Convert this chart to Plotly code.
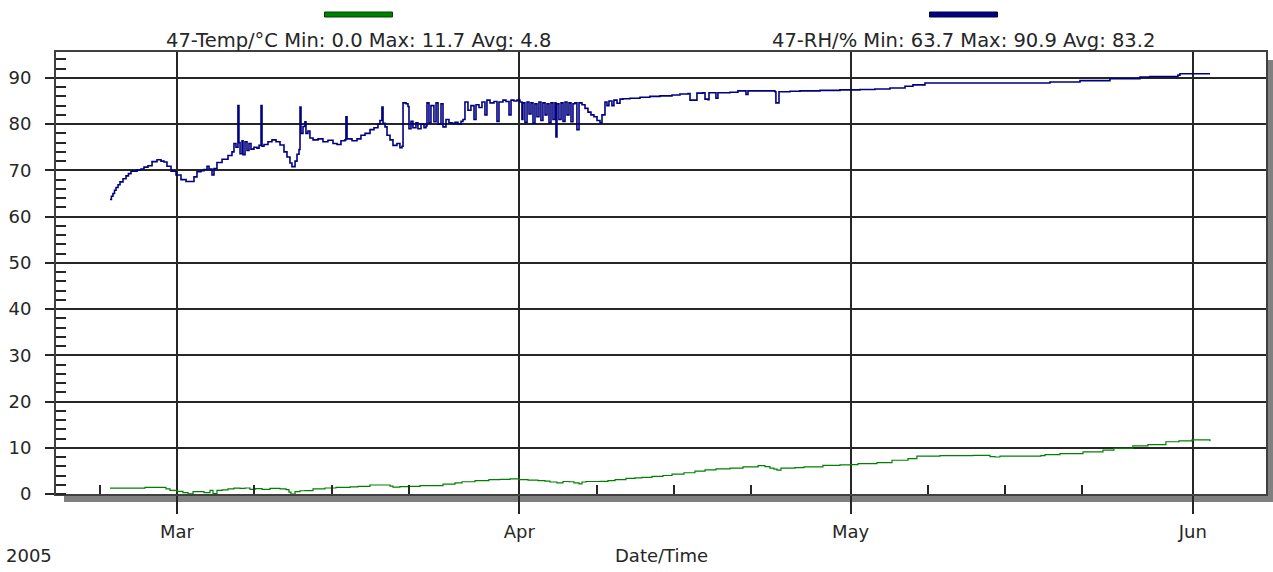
import pandas as pd
import plotly.graph_objects as go

# Logger 47, spring 2005
# time is stored as days since 2005-03-01 00:00
t0 = pd.Timestamp("2005-03-01")

rh_days = [
    -6.07, -5.94, -5.80, -5.66, -5.52, -5.34, -5.16, -4.89, -4.62, -4.40, -4.17, -3.62,
    -3.26, -2.99, -2.63, -2.26, -1.81,
    -1.45, -1.18, -0.91, -0.54, -0.09, 0.36, 0.82, 1.18, 1.54, 1.81, 2.17, 2.45, 2.72,
    2.90, 3.17, 3.35, 3.62, 4.08, 4.62, 4.98, 5.16, 5.34, 5.52, 5.61, 5.71, 5.89, 5.98,
    6.16, 6.34, 6.52, 6.70, 6.97, 7.24, 7.43, 7.61, 7.70, 7.88, 8.24, 8.60, 8.97, 9.33,
    9.69, 9.96, 10.23, 10.41, 10.69, 10.87, 11.05, 11.14, 11.23, 11.41, 11.59, 11.68,
    11.86, 12.04, 12.32, 12.77, 13.22, 13.67, 14.13, 14.49, 14.85, 15.21, 15.30, 15.40,
    15.85, 16.30, 16.66, 17.03, 17.48, 17.84, 18.20, 18.38, 18.56, 18.66, 18.84, 19.02,
    19.29, 19.56, 19.92, 20.19, 20.38, 20.47, 20.74, 20.92, 21.01, 21.19, 21.37, 21.64,
    21.82, 22.10, 22.37, 22.55, 22.64, 22.82, 23.00, 23.27, 23.46, 23.64, 23.91, 24.09,
    24.36, 24.63, 24.90, 25.18, 25.45, 25.72, 25.90, 26.08, 26.35, 26.62, 26.90, 27.08,
    27.35, 27.62, 27.89, 28.07, 28.35, 28.71, 28.98, 29.16, 29.52, 29.79, 30.07, 30.25,
    30.52, 30.79, 31.06, 31.24, 31.33, 31.51, 31.70, 31.88, 32.06, 32.24, 32.42, 32.60,
    32.78, 32.96, 33.14, 33.33, 33.51, 33.69, 33.87, 34.05, 34.23, 34.32, 34.41, 34.59,
    34.78, 34.96, 35.14, 35.32, 35.50, 35.68, 35.86, 36.04, 36.22, 36.41, 36.68, 36.95,
    37.22, 37.49, 37.76, 38.04, 38.31, 38.49, 38.76, 38.94, 39.12, 39.39, 39.57, 39.85,
    40.12, 40.39, 41.02, 41.93, 42.83, 43.74, 44.83, 45.55, 46.28, 46.46, 47.00, 47.09,
    47.63, 47.82, 48.09, 48.18, 48.72, 48.81, 48.99, 50.08, 50.80, 51.44, 51.53, 51.71,
    52.80, 53.70, 54.15, 54.24, 54.43, 54.52, 55.51, 56.42, 58.23, 60.04, 61.85, 63.21,
    64.57, 65.93, 66.65, 67.74, 70.91, 74.53, 77.52, 79.06, 81.78, 84.49, 87.21, 88.11,
    90.65, 90.83, 92.19, 93.55,
]
rh_values = [
    63.7, 64.4, 65.0, 65.7, 66.3, 66.9, 67.5, 68.2, 68.8, 69.3, 69.8, 70.1,
    70.3, 70.7, 71.0, 71.9, 72.3,
    72.0, 71.8, 70.9, 69.8, 69.0, 68.0, 67.6, 67.6, 68.6, 69.7, 69.9, 70.2, 70.9,
    70.3, 69.0, 70.4, 71.7, 72.4, 73.2, 74.0, 75.8, 75.0, 84.0, 76.0, 73.6, 76.4, 73.4,
    76.2, 74.3, 75.8, 74.6, 75.0, 74.8, 75.4, 84.0, 75.2, 75.6, 76.2, 76.6, 76.2, 75.5,
    74.0, 72.9, 71.6, 70.8, 72.0, 73.5, 74.5, 83.7, 78.0, 79.5, 80.5, 78.0,
    78.5, 77.0, 76.6, 76.8, 76.2, 76.5, 75.8, 75.6, 76.4, 76.6, 81.6, 76.8,
    76.4, 76.8, 77.6, 78.0, 78.8, 79.2, 80.0, 80.8, 83.7, 80.2, 79.4, 77.6,
    76.6, 75.4, 75.8, 74.9, 75.2, 84.6, 84.4, 83.8, 79.0, 80.6, 79.2, 80.3,
    79.0, 80.0, 79.2, 79.6, 84.6, 80.3, 84.0, 80.5, 84.6, 80.0, 84.4, 79.4,
    81.0, 80.3, 80.2, 80.4, 80.0, 80.6, 81.0, 84.8, 83.0, 84.0, 81.0, 84.2,
    83.6, 84.8, 82.0, 85.2, 84.6, 84.9, 80.6, 84.8, 85.2, 84.9, 82.0, 85.2,
    85.0, 85.2, 84.8, 81.0, 84.6, 80.4, 84.8, 82.2, 84.6, 80.2, 84.4, 81.6,
    84.8, 80.8, 84.6, 82.0, 84.4, 80.3, 84.6, 81.0, 84.6, 77.2, 84.4, 81.0,
    84.6, 80.6, 84.8, 82.0, 84.6, 80.5, 84.4, 84.6, 78.8, 84.6, 84.2, 83.4,
    82.6, 82.0, 81.6, 80.8, 80.3, 82.0, 84.8, 84.0, 85.0, 84.0, 85.2, 84.5,
    85.4, 85.5, 85.6, 85.8, 86.0, 86.1, 86.3, 86.5, 86.6, 85.2, 85.2, 86.7,
    86.8, 85.4, 85.3, 86.8, 86.8, 85.6, 86.8, 86.9, 87.2, 87.2, 86.4, 87.2,
    87.2, 87.2, 87.0, 84.6, 84.6, 87.0, 87.1, 87.2, 87.3, 87.4, 87.5, 87.6,
    87.8, 88.2, 88.5, 88.9, 88.9, 88.9, 88.9, 89.1, 89.4, 89.8, 90.2, 90.3,
    90.6, 90.9, 90.9, 90.9,
]

temp_days = [
    -6.07, -4.26, -2.90, -1.36, -1.00, -0.63, 0.00, 0.54, 1.00, 1.45, 1.90, 2.45, 2.99,
    3.26, 3.62, 4.08, 4.62, 5.16, 5.71, 6.16, 6.61, 7.06, 7.70, 8.42, 9.33, 9.87, 10.14,
    10.32, 10.69, 11.14, 11.59, 12.32, 13.40, 14.40, 15.67, 16.39, 17.48, 18.38, 19.02,
    19.29, 19.56, 20.19, 20.92, 22.01, 24.09, 25.18, 25.81, 26.99, 28.25, 29.25, 30.16,
    30.97, 31.79, 32.69, 33.33, 33.78, 34.41, 34.96, 35.50, 35.95, 36.41, 36.68, 37.04,
    37.67, 38.31, 39.03, 39.67, 40.66, 41.48, 42.11, 43.02, 44.01, 44.83, 45.91, 46.91,
    47.82, 48.81, 50.08, 51.26, 52.62, 53.25, 53.70, 54.06, 54.34, 54.70, 55.97, 56.78,
    58.50, 60.04, 61.04, 61.67, 63.39, 64.75, 66.20, 67.01, 69.10, 72.09, 73.63, 74.08,
    74.53, 78.24, 78.61, 79.96, 82.05, 83.86, 84.85, 86.57, 87.93, 89.56, 90.74, 91.92,
    92.82, 93.55,
]
temp_values = [
    1.25, 1.25, 1.45, 1.45, 1.1, 0.8, 0.55, 0.3, 0.05, 0.5, 0.5, 0.3, 0.8,
    0.1, 0.8, 0.9, 1.1, 1.25, 1.2, 1.3, 1.0, 1.15, 1.0, 1.2, 1.1, 0.95, 0.4,
    0.0, 0.5, 0.7, 0.75, 1.1, 1.3, 1.45, 1.55, 1.65, 1.95, 1.95, 1.95,
    1.7, 1.5, 1.6, 1.65, 1.8, 2.15, 2.4, 2.65, 2.9, 3.1, 3.15, 3.25,
    3.1, 3.0, 2.9, 2.8, 2.6, 2.4, 2.7, 2.65, 2.4, 2.2, 2.6, 2.7,
    2.7, 2.75, 2.9, 3.1, 3.4, 3.5, 3.6, 3.8, 4.0, 4.3, 4.6, 4.95,
    5.2, 5.45, 5.6, 5.85, 6.15, 5.9, 5.6, 5.4, 5.15, 5.6, 5.7, 5.85,
    6.2, 6.3, 6.35, 6.55, 6.8, 7.3, 7.65, 8.2, 8.3, 8.35, 8.1, 8.0,
    8.2, 8.3, 8.5, 8.75, 9.1, 9.5, 9.85, 10.4, 10.7, 11.3, 11.5, 11.7,
    11.7, 11.4,
]

legend_labels = [
    "47-Temp/°C Min: 0.0 Max: 11.7 Avg: 4.8",
    "47-RH/% Min: 63.7 Max: 90.9 Avg: 83.2",
]
month_ticks = ["2005-03-01", "2005-04-01", "2005-05-01", "2005-06-01"]
month_labels = ["Mar", "Apr", "May", "Jun"]
week_ticks = ["2005-02-22", "2005-03-08", "2005-03-15", "2005-03-22",
              "2005-04-08", "2005-04-15", "2005-04-22",
              "2005-05-08", "2005-05-15", "2005-05-22"]

FONT = "DejaVu Sans"
INK = "#262626"
TEMP_COLOR = "#008000"
RH_COLOR = "#000080"

rh_time = t0 + pd.to_timedelta(rh_days, unit="D")
temp_time = t0 + pd.to_timedelta(temp_days, unit="D")

# logger readings are held until the next sample -> step lines
fig = go.Figure()
fig.add_trace(go.Scatter(x=temp_time, y=temp_values, mode="lines",
                         line=dict(color=TEMP_COLOR, width=1.2, shape="hv"),
                         showlegend=False))
fig.add_trace(go.Scatter(x=rh_time, y=rh_values, mode="lines",
                         line=dict(color=RH_COLOR, width=1.6, shape="hv"),
                         showlegend=False))

axis_common = dict(showline=True, mirror=True, linecolor="#404040", linewidth=2,
                   showgrid=True, gridcolor=INK, gridwidth=1.5, zeroline=False,
                   tickcolor=INK, tickwidth=1.5, automargin=False,
                   tickfont=dict(family=FONT, size=18, color=INK))

fig.update_xaxes(type="date", range=["2005-02-18 01:00", "2005-06-07 15:00"],
                 tickvals=month_ticks, ticktext=month_labels,
                 ticks="outside", ticklen=18, ticklabelstandoff=2,
                 minor=dict(tickvals=week_ticks, ticks="inside", ticklen=9,
                            tickcolor=INK, tickwidth=1.5, showgrid=False),
                 **axis_common)
fig.update_yaxes(range=[0, 95.6], tickvals=list(range(0, 100, 10)),
                 ticks="outside", ticklen=9, ticklabelstandoff=10,
                 minor=dict(dtick=2, ticks="inside", ticklen=10,
                            tickcolor=INK, tickwidth=1.5, showgrid=False),
                 **axis_common)

# plot area (px 56..1266 x 52..494) -> paper coords, shadow offset 8px
W, H = 1210, 442
shapes = [
    dict(type="rect", xref="paper", yref="paper", layer="below",
         x0=8 / W, x1=1 + 8 / W, y0=-8 / H, y1=1 - 8 / H,
         fillcolor="#808080", line=dict(width=0)),
    dict(type="rect", xref="paper", yref="paper", layer="below",
         x0=0, x1=1, y0=0, y1=1, fillcolor="white", line=dict(width=0)),
]
annotations = []
for cx, label, color, edge in [(0.25, legend_labels[0], TEMP_COLOR, "#004000"),
                               (0.75, legend_labels[1], RH_COLOR, "#000040")]:
    shapes.append(dict(type="rect", xref="paper", yref="paper",
                       x0=cx - 34 / W, x1=cx + 34 / W, y0=1 + 35 / H, y1=1 + 40 / H,
                       fillcolor=color, line=dict(color=edge, width=1)))
    annotations.append(dict(text=label, xref="paper", yref="paper", x=cx, y=1 + 12 / H,
                            xanchor="center", yanchor="middle", showarrow=False,
                            font=dict(family=FONT, size=19.5, color=INK)))

annotations.append(dict(text="Date/Time", xref="paper", yref="paper", x=0.5, y=-61 / H,
                        xanchor="center", yanchor="middle", showarrow=False,
                        font=dict(family=FONT, size=18, color=INK)))
annotations.append(dict(text="2005", xref="paper", yref="paper", x=-52 / W, y=-61 / H,
                        xanchor="left", yanchor="middle", showarrow=False,
                        font=dict(family=FONT, size=18, color=INK)))

fig.update_layout(width=1273, height=572, autosize=False,
                  margin=dict(l=56, r=7, t=52, b=78),
                  paper_bgcolor="white", plot_bgcolor="white",
                  shapes=shapes, annotations=annotations, showlegend=False)

# the page's default 8px body margin would shift the whole figure
fig.write_html("out.html", config={"displayModeBar": False},
               post_script="document.body.style.margin = '0';")
